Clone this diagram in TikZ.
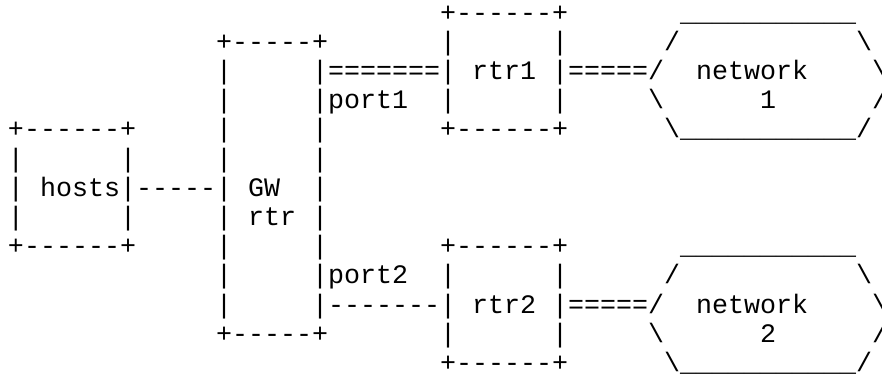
\documentclass[tikz,border=0pt]{standalone}
\usepackage{fontspec}
\setmonofont{Liberation Mono}
\tikzset{
  tok/.style={inner sep=0pt, outer sep=0pt, anchor=base west,
    font=\ttfamily\fontsize{26.667pt}{26.667pt}\selectfont, text=black},
  under/.style={tok},
}
\newcommand{\tk}[4]{\node[tok] (#3) at ({8+16*#2},{-(21+29.2*#1)}) {#4};}
\newcommand{\ul}[3]{\node[under] (#3) at ({8+16*#2},{-(21+29.2*#1)}) {\_\_\_\_\_\_\_\_\_\_\_};}
\begin{document}
\begin{tikzpicture}[x=1pt,y=1pt]
\useasboundingbox[fill=white] (0,0) rectangle (882,-376);
% row 0
\tk{0}{27}{rtrAtop}{+------+}
\ul{0}{42}{netAtop}
% row 1
\tk{1}{13}{gwtop}{+-----+}
\tk{1}{27}{rtrAla}{|}
\tk{1}{34}{rtrAra}{|}
\tk{1}{41}{netAla}{/}
\tk{1}{53}{netAra}{\textbackslash}
% row 2
\tk{2}{13}{gwlb}{|}
\tk{2}{19}{linkA}{|=======|}
\tk{2}{29}{rtrA}{rtr1}
\tk{2}{34}{linkAn}{|=====/}
\tk{2}{43}{netA}{network}
\tk{2}{54}{netArb}{\textbackslash}
% row 3
\tk{3}{13}{gwlc}{|}
\tk{3}{19}{portA}{|port1}
\tk{3}{27}{rtrAlc}{|}
\tk{3}{34}{rtrArc}{|}
\tk{3}{40}{netAlc}{\textbackslash}
\tk{3}{47}{netAnum}{1}
\tk{3}{54}{netArc}{/}
% row 4
\tk{4}{0}{hoststop}{+------+}
\tk{4}{13}{gwld}{|}
\tk{4}{19}{gwrd}{|}
\tk{4}{27}{rtrAbot}{+------+}
\tk{4}{41}{netAld}{\textbackslash}
\ul{4}{42}{netAbot}
\tk{4}{53}{netArd}{/}
% row 5
\tk{5}{0}{hostsla}{|}
\tk{5}{7}{hostsra}{|}
\tk{5}{13}{gwle}{|}
\tk{5}{19}{gwre}{|}
% row 6
\tk{6}{0}{hostslb}{|}
\tk{6}{2}{hosts}{hosts|-----|}
\tk{6}{15}{gw}{GW}
\tk{6}{19}{gwrf}{|}
% row 7
\tk{7}{0}{hostslc}{|}
\tk{7}{7}{hostsrc}{|}
\tk{7}{13}{gwlg}{|}
\tk{7}{15}{gwrtr}{rtr}
\tk{7}{19}{gwrg}{|}
% row 8
\tk{8}{0}{hostsbot}{+------+}
\tk{8}{13}{gwlh}{|}
\tk{8}{19}{gwrh}{|}
\tk{8}{27}{rtrBtop}{+------+}
\ul{8}{42}{netBtop}
% row 9
\tk{9}{13}{gwli}{|}
\tk{9}{19}{portB}{|port2}
\tk{9}{27}{rtrBla}{|}
\tk{9}{34}{rtrBra}{|}
\tk{9}{41}{netBla}{/}
\tk{9}{53}{netBra}{\textbackslash}
% row 10
\tk{10}{13}{gwlj}{|}
\tk{10}{19}{linkB}{|-------|}
\tk{10}{29}{rtrB}{rtr2}
\tk{10}{34}{linkBn}{|=====/}
\tk{10}{43}{netB}{network}
\tk{10}{54}{netBrb}{\textbackslash}
% row 11
\tk{11}{13}{gwbot}{+-----+}
\tk{11}{27}{rtrBlc}{|}
\tk{11}{34}{rtrBrc}{|}
\tk{11}{40}{netBlc}{\textbackslash}
\tk{11}{47}{netBnum}{2}
\tk{11}{54}{netBrc}{/}
% row 12
\tk{12}{27}{rtrBbot}{+------+}
\tk{12}{41}{netBld}{\textbackslash}
\ul{12}{42}{netBbot}
\tk{12}{53}{netBrd}{/}
\end{tikzpicture}
\end{document}
